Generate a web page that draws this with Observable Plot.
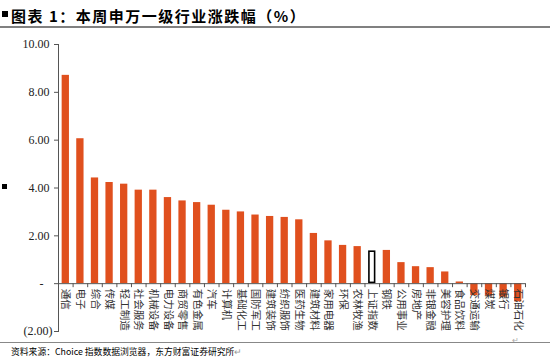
<!DOCTYPE html>
<html><head><meta charset="utf-8">
<script src="https://cdn.jsdelivr.net/npm/d3@7"></script>
<script src="https://cdn.jsdelivr.net/npm/@observablehq/plot@0.6"></script>
<style>
body{margin:0;background:#fff;width:550px;height:364px;overflow:hidden;position:relative;font-family:"Noto Sans CJK SC",sans-serif;}
#sq{position:absolute;left:2px;top:11px;width:6px;height:6px;background:#000;}
#title{position:absolute;left:11px;top:8px;font-size:15px;line-height:16px;font-weight:bold;color:#000;letter-spacing:1.5px;white-space:nowrap;}
#title .u{text-decoration:underline;text-decoration-color:#86A8E0;text-decoration-thickness:1.5px;text-underline-offset:4px;}
.ret{color:#999;font-weight:normal;font-size:9px;}
#tline{position:absolute;left:0;top:26px;width:550px;height:0;border-top:2px solid #808080;}
#legsq{position:absolute;left:2px;top:184px;width:5px;height:5px;background:#000;}
#chart{position:absolute;left:0;top:30px;}
#fline{position:absolute;left:0;top:342px;width:550px;height:0;border-top:1px solid #888;}
#foot{position:absolute;left:11px;top:346px;font-size:8.8px;line-height:12px;color:#000;white-space:nowrap;}
#ret2{position:absolute;left:512px;top:334px;font-size:8px;color:#aaa;}
</style>
</head><body>
<div id="sq"></div>
<div id="title">图表 1：本周<span class="u">申万一级行业</span>涨跌幅（%）</div>
<div id="tline"></div>
<div id="legsq"></div>
<div id="chart"></div>
<div id="ret2">↵</div>
<div id="fline"></div>
<div id="foot">资料来源：Choice 指数数据浏览器，东方财富证券研究所<span class="ret">↵</span></div>
<script>
const industries = ["通信","电子","综合","传媒","轻工制造","社会服务","机械设备","电力设备","商贸零售","有色金属","汽车","计算机","基础化工","国防军工","建筑装饰","纺织服饰","医药生物","建筑材料","家用电器","环保","农林牧渔","上证指数","钢铁","公用事业","房地产","非银金融","美容护理","食品饮料","交通运输","煤炭","银行","石油石化"];
const changes = [8.71,6.06,4.42,4.23,4.16,3.91,3.91,3.60,3.46,3.39,3.28,3.07,3.00,2.87,2.81,2.77,2.67,2.10,1.79,1.60,1.55,1.37,1.39,0.88,0.71,0.67,0.49,0.07,-0.50,-0.52,-0.57,-0.76];
const benchmark = "上证指数";
const yTickValues = [-2,0,2,4,6,8,10];
const yTickLabels = ["(2.00)","-","2.00","4.00","6.00","8.00","10.00"];

const data = industries.map((name,i)=>({name, value: changes[i]}));
const W=550, H=312, mL=58, mR=25, mT=14, mB=11;
const halfStep = (W-mL-mR)/industries.length/2;
const axisColor = "#555";

const chart = Plot.plot({
  width: W, height: H, marginLeft: mL, marginRight: mR, marginTop: mT, marginBottom: mB,
  style: {background:"transparent", overflow:"visible"},
  x: {type:"band", domain: industries, paddingInner:0.5, paddingOuter:0.25, round:false, axis:null},
  y: {domain:[-2,10], axis:null},
  marks: [
    Plot.barY(data.filter(d=>d.name!==benchmark), {x:"name", y:"value", fill:"#E0501E"}),
    Plot.barY(data.filter(d=>d.name===benchmark), {x:"name", y:"value", fill:"#fff", stroke:"#000", strokeWidth:1.6, inset:0.8}),
    Plot.ruleY([0], {stroke:axisColor, strokeWidth:1}),
    Plot.ruleX(industries, {x:d=>d, y1:()=>0, y2:()=>0, dx:halfStep, insetTop:0, insetBottom:-4, stroke:axisColor}),
    Plot.frame({anchor:"left", stroke:axisColor}),
    Plot.axisY({ticks:yTickValues, tickSize:4, tickPadding:2, stroke:axisColor, label:null,
      tickFormat: d=>{const l=yTickLabels[yTickValues.indexOf(d)]; return d<0?l:(d===0?l+"\u2002\u2008":l+"\u2008");},
      fontFamily:"Liberation Serif", fontSize:12, fill:"#222"}),
    Plot.text(industries, {x:d=>d, y:()=>0, text:d=>d, rotate:90, textAnchor:"start", dy:5,
      fontFamily:"Noto Sans CJK SC", fontSize:10.5, fill:"#333"})
  ]
});
document.getElementById("chart").appendChild(chart);
</script>
</body></html>
